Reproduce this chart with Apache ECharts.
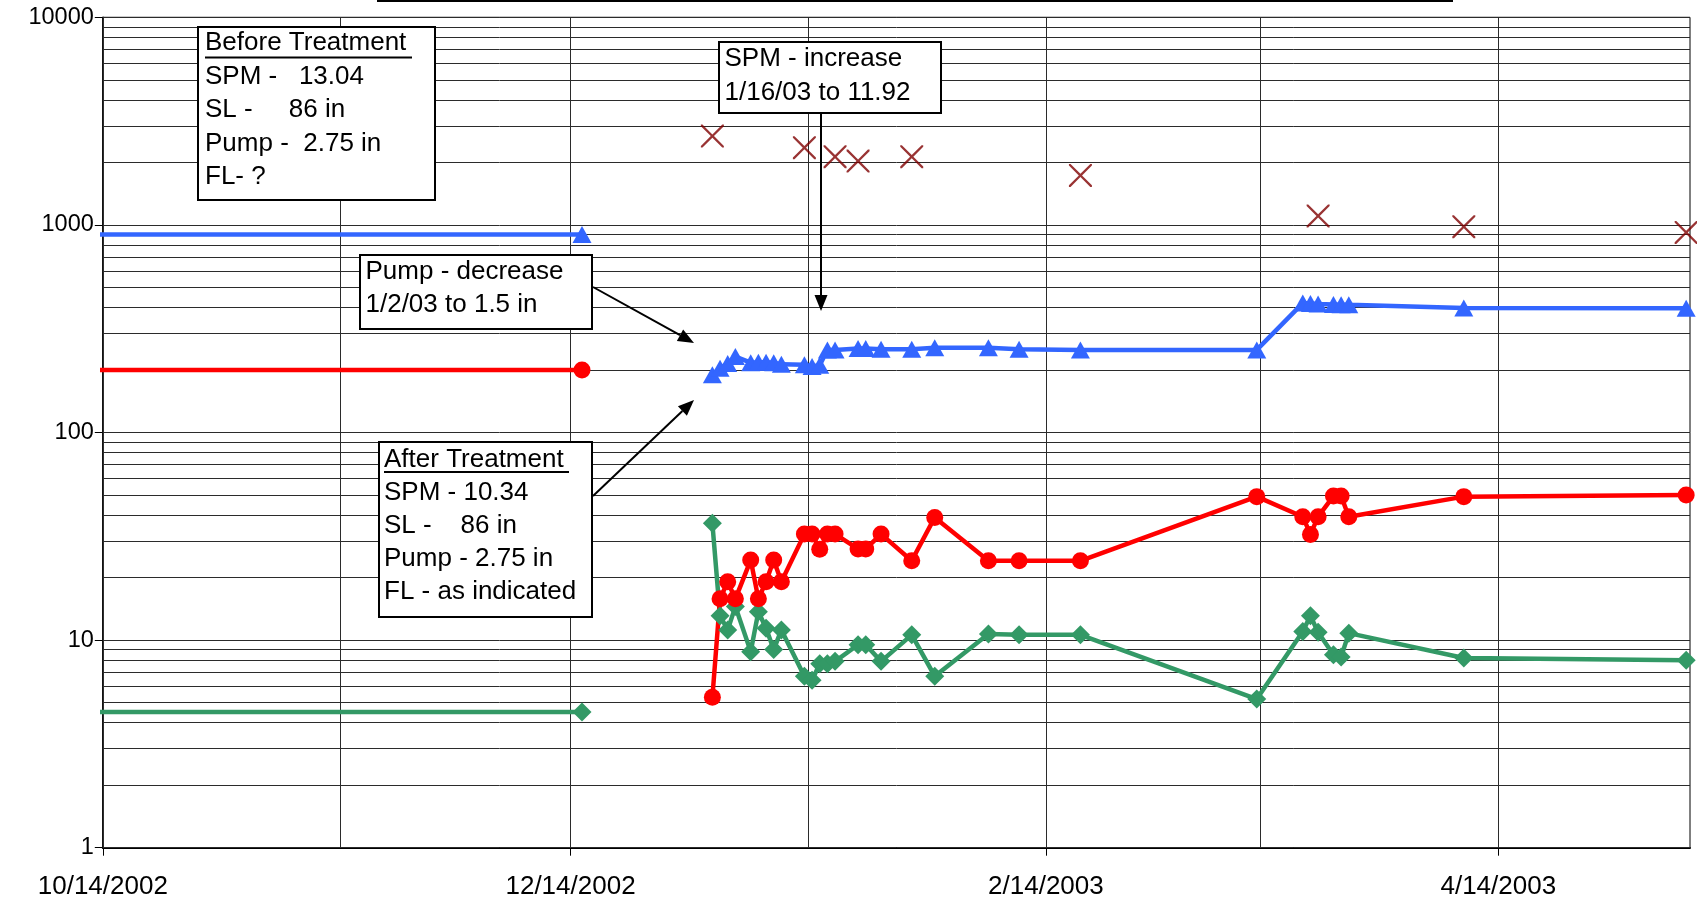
<!DOCTYPE html>
<html>
<head>
<meta charset="utf-8">
<title>Treatment chart</title>
<script src="https://cdn.jsdelivr.net/npm/echarts@6.0.0/dist/echarts.min.js"></script>
<style>
  html, body { margin: 0; padding: 0; background: #fff; }
  #chart { width: 1697px; height: 906px; }
</style>
</head>
<body>
<div id="chart"></div>
<script>
// ---- data ----
// before treatment (the first date sits just left of the axis, like the original)
const beforeDates = ['2002-10-12', '2002-12-15']
const beforeBlue = [900, 900]
const beforeRed = [200, 200]
const beforeGreen = [4.5, 4.5]

// after treatment
const afterDates = [
  '2003-01-01', '2003-01-02', '2003-01-03', '2003-01-04', '2003-01-06', '2003-01-07',
  '2003-01-08', '2003-01-09', '2003-01-10', '2003-01-13', '2003-01-14', '2003-01-15',
  '2003-01-16', '2003-01-17', '2003-01-20', '2003-01-21', '2003-01-23', '2003-01-27',
  '2003-01-30', '2003-02-06', '2003-02-10', '2003-02-18', '2003-03-13', '2003-03-19',
  '2003-03-20', '2003-03-21', '2003-03-23', '2003-03-24', '2003-03-25', '2003-04-09',
  '2003-05-08'
]
const afterBlue = [
  190, 204, 215, 232, 217, 218, 218, 217, 213, 212, 208, 211,
  250, 250, 254, 254, 252, 252, 256, 256, 252, 250, 250, 420,
  418, 416, 414, 413, 412, 398, 397
]
const afterRed = [
  5.3, 15.8, 19.1, 15.8, 24.3, 15.8, 19.1, 24.3, 19.1, 32.4, 32.4, 27.4,
  32.4, 32.4, 27.5, 27.5, 32.4, 24.1, 39.0, 24.1, 24.1, 24.1, 49.1, 39.3,
  32.3, 39.3, 49.4, 49.4, 39.3, 49.1, 50.0
]
const afterGreen = [
  36.5, 13.1, 11.2, 14.5, 8.8, 13.7, 11.4, 9.0, 11.2, 6.7, 6.4, 7.7,
  7.7, 7.9, 9.5, 9.5, 7.9, 10.6, 6.7, 10.7, 10.6, 10.6, 5.2, 11.0,
  13.1, 10.9, 8.5, 8.3, 10.8, 8.2, 8.0
]

// x marks, no line
const crossDates = ['2003-01-01', '2003-01-13', '2003-01-17', '2003-01-20', '2003-01-27',
  '2003-02-18', '2003-03-21', '2003-04-09', '2003-05-08']
const crossValues = [2680, 2355, 2130, 2030, 2130, 1730, 1105, 980, 920]

// axes
const axisStart = '2002-10-14'
const axisEnd = '2003-05-09'
const labelDates = ['2002-10-14', '2002-12-14', '2003-02-14', '2003-04-14']
const monthLines = ['2002-11-14', '2002-12-14', '2003-01-14', '2003-02-14', '2003-03-14', '2003-04-14']
const yMajor = [1, 10, 100, 1000, 10000]

const BLUE = '#3366FF'
const RED = '#FF0000'
const GREEN = '#339966'
const DARKRED = '#800000'
const FONT = '"Liberation Sans", Arial, sans-serif'

// ---- helpers ----
function day(s, hour) {
  const [y, m, d] = s.split('-').map(Number)
  return new Date(y, m - 1, d, hour || 0).getTime()
}
// excel puts each date in the middle of its day slot
const noon = s => day(s, 12)
function pairs(dates, values) {
  return dates.map((d, i) => [noon(d), values[i]])
}
function beforeData(values) {
  const data = pairs(beforeDates, values)
  data[0] = { value: data[0], symbol: 'none' }
  return data
}
function fmtDate(v) {
  const d = new Date(v)
  return (d.getMonth() + 1) + '/' + d.getDate() + '/' + d.getFullYear()
}

// minor gridlines at 2..9 of every decade, like the excel log grid
const hLines = yMajor.slice()
for (let p = 1; p < 10000; p *= 10) {
  for (let k = 2; k <= 9; k++) hLines.push(k * p)
}

const symbolX = 'path://M0,0L7,0L50,43L93,0L100,0L100,7L57,50L100,93L100,100L93,100L50,57L7,100L0,100L0,93L43,50L0,7Z'

function lineSeries(name, data, color, symbol, size, clip) {
  return {
    name, type: 'line', data, z: 2,
    symbol, symbolSize: size,
    clip: clip,
    lineStyle: { color, width: 4.5 },
    itemStyle: { color }
  }
}

// #region annotations
function noteBox(x, y, w, h, tx, ty, lh, lines) {
  return [
    { type: 'rect', z: 100, shape: { x, y, width: w, height: h },
      style: { fill: '#fff', stroke: '#000', lineWidth: 2 } },
    { type: 'text', z: 101, x: tx, y: ty,
      style: { text: lines.join('\n'), font: '26px ' + FONT, fill: '#000', lineHeight: lh, verticalAlign: 'top' } }
  ]
}
function underline(x1, x2, y) {
  return { type: 'line', z: 101, shape: { x1, y1: y, x2, y2: y }, style: { stroke: '#000', lineWidth: 2 } }
}
function arrow(x1, y1, x2, y2) {
  const len = Math.hypot(x2 - x1, y2 - y1)
  const ux = (x2 - x1) / len, uy = (y2 - y1) / len
  const hl = 16, hw = 6.5
  const bx = x2 - ux * hl, by = y2 - uy * hl
  return [
    { type: 'line', z: 100, shape: { x1, y1, x2: bx, y2: by }, style: { stroke: '#000', lineWidth: 2 } },
    { type: 'polygon', z: 100, shape: { points: [[x2, y2], [bx - uy * hw, by + ux * hw], [bx + uy * hw, by - ux * hw]] },
      style: { fill: '#000' } }
  ]
}
const graphics = [].concat(
  // edge of a title box that is cut off at the top
  [{ type: 'line', z: 100, shape: { x1: 377, y1: 1, x2: 1453, y2: 1 }, style: { stroke: '#000', lineWidth: 2 } }],
  noteBox(198, 27, 237, 173, 205, 26.5, 33.5,
    ['Before Treatment', 'SPM -   13.04', 'SL -     86 in', 'Pump -  2.75 in', 'FL- ?']),
  [underline(205, 412, 57.5)],
  noteBox(719, 42, 222, 71, 724.5, 42.5, 33.4,
    ['SPM - increase', '1/16/03 to 11.92']),
  noteBox(360, 255, 232, 74, 365.5, 255, 33.4,
    ['Pump - decrease', '1/2/03 to 1.5 in']),
  noteBox(379, 442, 213, 175, 384, 443, 33,
    ['After Treatment', 'SPM - 10.34', 'SL -    86 in', 'Pump - 2.75 in', 'FL - as indicated']),
  [underline(384, 569, 472)],
  arrow(593, 287, 694, 343),
  arrow(593, 496, 694, 400),
  arrow(821, 113, 821, 311)
)
// #endregion

const labelTimes = labelDates.map(d => day(d))

const chart = echarts.init(document.getElementById('chart'))
chart.setOption({
  animation: false,
  backgroundColor: '#fff',
  grid: {
    left: 102.8, right: 7, top: 17.3, bottom: 58.3,
    show: true, borderColor: '#000', borderWidth: 1
  },
  xAxis: {
    // timestamps on a value axis so the ticks can sit on the 14th of the month
    type: 'value',
    min: day(axisStart),
    max: day(axisEnd),
    axisLine: { lineStyle: { color: '#000', width: 2 } },
    axisTick: { show: true, length: 8, customValues: labelTimes, lineStyle: { color: '#000' } },
    axisLabel: {
      customValues: labelTimes,
      formatter: fmtDate,
      color: '#000', fontSize: 26, fontFamily: FONT, margin: 26
    },
    splitLine: { show: false }
  },
  yAxis: {
    type: 'log',
    logBase: 10,
    min: 1,
    max: 10000,
    axisLine: { show: true, lineStyle: { color: '#000', width: 1.5 } },
    axisTick: { show: true, length: 8, lineStyle: { color: '#000' } },
    axisLabel: {
      formatter: v => String(Math.round(v)),
      color: '#000', fontSize: 23.5, fontFamily: FONT, margin: 9
    },
    splitLine: { show: false },
    minorTick: { show: false },
    minorSplitLine: { show: false }
  },
  series: [
    {
      // grid lines only
      name: 'grid', type: 'line', data: [], silent: true,
      markLine: {
        z: 1, silent: true, symbol: ['none', 'none'], animation: false,
        label: { show: false },
        lineStyle: { color: '#2b2b2b', width: 1, type: 'solid' },
        emphasis: { disabled: true },
        data: hLines.map(v => ({ yAxis: v })).concat(monthLines.map(d => ({ xAxis: day(d) })))
      }
    },
    lineSeries('green before', beforeData(beforeGreen), GREEN, 'diamond', 19, false),
    lineSeries('red before', beforeData(beforeRed), RED, 'circle', 17, false),
    lineSeries('blue before', beforeData(beforeBlue), BLUE, 'triangle', [19, 17], false),
    lineSeries('green after', pairs(afterDates, afterGreen), GREEN, 'diamond', 19, true),
    lineSeries('red after', pairs(afterDates, afterRed), RED, 'circle', 17, true),
    lineSeries('blue after', pairs(afterDates, afterBlue), BLUE, 'triangle', [19, 17], true),
    {
      name: 'x', type: 'scatter', z: 3,
      data: pairs(crossDates, crossValues),
      symbol: symbolX, symbolSize: 23,
      itemStyle: { color: DARKRED }
    }
  ],
  graphic: { elements: graphics }
})
</script>
</body>
</html>
